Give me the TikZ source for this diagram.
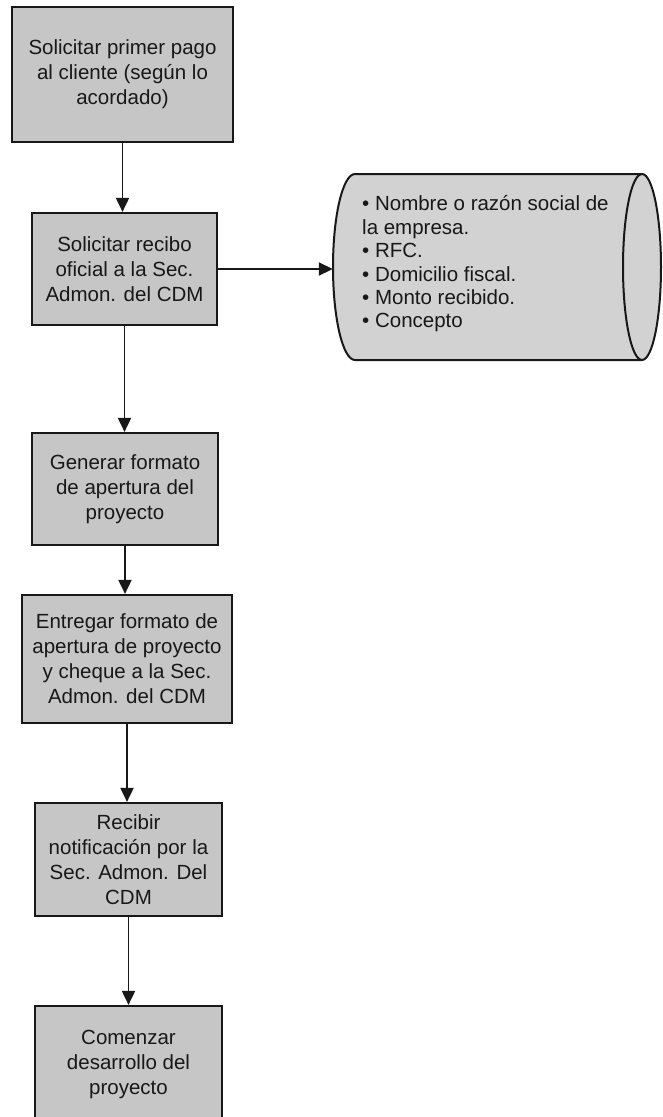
\documentclass[tikz,border=0pt]{standalone}
\usepackage{fontspec}
\setmainfont{Liberation Sans}
\usetikzlibrary{arrows.meta}

\definecolor{boxfill}{RGB}{198,198,198}
\definecolor{drumfill}{RGB}{210,210,210}
\definecolor{ink}{RGB}{24,24,24}

\tikzset{
  stepbox/.style={draw=ink, line width=2.2pt, fill=boxfill, align=center,
    inner sep=0pt, text=ink,
    font=\fontsize{20.5}{25}\selectfont},
  flow/.style={draw=ink, line width=1.9pt,
    -{Triangle[length=14pt,width=13pt]}},
  drum/.style={draw=ink, line width=2pt, fill=drumfill},
  listtext/.style={align=left, inner sep=0pt, text=ink,
    font=\fontsize{20.5}{23.4}\selectfont}
}

\begin{document}
\begin{tikzpicture}[x=1pt,y=-1pt]
\useasboundingbox (0,0) rectangle (662,1117);

% process steps
\node[stepbox, minimum width=221pt, minimum height=135pt] (b1) at (122.5,74.5)
  {Solicitar primer pago\\al cliente (según lo\\acordado)};
\node[stepbox, minimum width=185pt, minimum height=112pt] (b2) at (124.5,269)
  {Solicitar recibo\\oficial a la Sec.\\Admon. del CDM};
\node[stepbox, minimum width=186pt, minimum height=112pt] (b3) at (125,489)
  {Generar formato\\de apertura del\\proyecto};
\node[stepbox, minimum width=210pt, minimum height=128pt] (b4) at (127,659)
  {Entregar formato de\\apertura de proyecto\\y cheque a la Sec.\\Admon. del CDM};
\node[stepbox, minimum width=187pt, minimum height=113pt] (b5) at (128.5,859.5)
  {Recibir\\notificación por la\\Sec. Admon. Del\\CDM};
\node[stepbox, minimum width=187pt, minimum height=116pt] (b6) at (128.5,1064)
  {Comenzar\\desarrollo del\\proyecto};

% stored data drum
\path[drum] (355,174) -- (642,174)
  arc[start angle=-90, end angle=90, x radius=19, y radius=93]
  -- (355,360)
  arc[start angle=90, end angle=270, x radius=22, y radius=93] -- cycle;
\draw[ink, line width=2pt] (642,174)
  arc[start angle=-90, end angle=-270, x radius=19, y radius=93];
\node[inner sep=0pt, minimum width=328pt, minimum height=186pt] (cyl) at (497,267) {};
\node[listtext, anchor=west] (cyltxt) at (362,264)
  {• Nombre o razón social de\\la empresa.\\• RFC.\\• Domicilio fiscal.\\• Monto recibido.\\• Concepto};

% connectors
\draw[flow] (b1.south) -- (b1.south |- b2.north);
\draw[flow] (b2.south) -- (b2.south |- b3.north);
\draw[flow] (b3.south) -- (b3.south |- b4.north);
\draw[flow] (b4.south) -- (b4.south |- b5.north);
\draw[flow] (b5.south) -- (b5.south |- b6.north);
\draw[flow] (b2.east) -- (b2.east -| cyl.west);
\end{tikzpicture}
\end{document}
